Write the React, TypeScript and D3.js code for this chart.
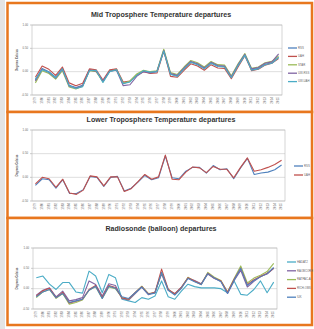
import * as d3 from 'd3';

const years = d3.range(1979, 2016);
const yTicks = [-0.5, 0, 0.5, 1.0];

// Mid troposphere (satellite)
const midLabels = ['RSS', 'UAH', 'STAR', 'UW-RSS', 'UW-UAH'];
const midRss = [-0.18, 0.07, 0.0, -0.12, 0.07, -0.29, -0.34, -0.29, 0.04, 0.02, -0.21, 0.02, 0.05, -0.25, -0.21, -0.07, 0.01, -0.02, 0.0, 0.46, -0.05, -0.09, 0.07, 0.21, 0.16, 0.07, 0.19, 0.12, 0.11, -0.12, 0.14, 0.36, 0.04, 0.07, 0.16, 0.19, 0.31];
const midUah = [-0.12, 0.12, 0.05, -0.08, 0.1, -0.24, -0.3, -0.25, 0.06, 0.04, -0.18, 0.04, 0.06, -0.22, -0.2, -0.08, 0.0, -0.04, -0.03, 0.44, -0.1, -0.12, 0.03, 0.17, 0.12, 0.03, 0.15, 0.08, 0.07, -0.15, 0.1, 0.34, 0.02, 0.05, 0.14, 0.18, 0.28];
const midStar = [-0.24, 0.02, -0.04, -0.16, 0.02, -0.33, -0.37, -0.31, 0.02, 0.0, -0.22, 0.01, 0.04, -0.25, -0.2, -0.05, 0.03, 0.0, 0.02, 0.48, -0.02, -0.06, 0.1, 0.24, 0.19, 0.1, 0.22, 0.15, 0.14, -0.09, 0.17, 0.39, 0.07, 0.1, 0.19, 0.22, 0.34];
const midUwRss = [-0.2, 0.05, -0.02, -0.14, 0.05, -0.31, -0.35, -0.3, 0.03, 0.01, -0.2, 0.01, 0.03, -0.3, -0.28, -0.1, 0.0, -0.03, 0.01, 0.45, -0.04, -0.08, 0.08, 0.22, 0.17, 0.08, 0.2, 0.13, 0.12, -0.11, 0.15, 0.37, 0.06, 0.09, 0.18, 0.21, 0.38];
const midUwUah = [-0.16, 0.04, -0.01, -0.13, 0.06, -0.3, -0.36, -0.32, 0.02, 0.03, -0.23, 0.0, 0.04, -0.26, -0.22, -0.08, 0.02, -0.01, 0.0, 0.44, -0.06, -0.1, 0.06, 0.2, 0.15, 0.06, 0.18, 0.11, 0.1, -0.13, 0.13, 0.35, 0.03, 0.06, 0.15, 0.18, 0.3];

// Lower troposphere (satellite)
const lowLabels = ['RSS', 'UAH'];
const lowRss = [-0.17, -0.03, -0.05, -0.23, -0.05, -0.34, -0.34, -0.26, 0.02, 0.0, -0.19, 0.0, 0.02, -0.29, -0.23, -0.1, 0.04, -0.05, -0.01, 0.45, -0.01, -0.03, 0.13, 0.21, 0.21, 0.09, 0.25, 0.16, 0.18, -0.03, 0.2, 0.4, 0.06, 0.09, 0.11, 0.16, 0.26];
const lowUah = [-0.14, 0.0, -0.03, -0.21, -0.04, -0.33, -0.36, -0.27, 0.03, 0.01, -0.18, 0.01, 0.01, -0.3, -0.24, -0.09, 0.06, -0.04, 0.01, 0.47, -0.04, -0.05, 0.11, 0.22, 0.2, 0.1, 0.23, 0.17, 0.17, -0.01, 0.21, 0.41, 0.13, 0.16, 0.21, 0.27, 0.36];

// Radiosonde
const sondeLabels = ['HADAT2', 'RAOBCORE', 'RATPAC-A', 'RICH-OBS', 'IUK'];
const sondeHadat = [0.27, 0.31, 0.11, -0.02, 0.15, 0.15, -0.08, -0.11, 0.43, 0.31, -0.1, 0.35, 0.27, -0.26, -0.3, -0.34, -0.22, -0.26, -0.18, 0.19, -0.2, -0.26, -0.06, 0.11, 0.05, 0.02, 0.02, 0.02, 0.0, -0.1, 0.19, -0.14, -0.16, -0.02, 0.19, -0.1, 0.16];
const sondeRaob = [-0.16, -0.04, 0.02, -0.2, -0.06, -0.3, -0.27, -0.22, 0.19, 0.1, -0.18, 0.12, 0.08, -0.24, -0.28, -0.12, 0.04, -0.15, -0.08, 0.36, -0.04, -0.12, 0.04, 0.26, 0.2, 0.12, 0.36, 0.25, 0.18, -0.12, 0.2, 0.45, 0.04, 0.18, 0.3, 0.36, 0.5];
const sondeRatpac = [-0.22, -0.08, -0.02, -0.24, -0.12, -0.38, -0.34, -0.28, -0.04, 0.05, -0.24, 0.04, 0.0, -0.22, -0.26, -0.1, 0.06, -0.12, -0.1, 0.4, -0.02, -0.14, 0.02, 0.28, 0.18, 0.1, 0.4, 0.28, 0.2, -0.08, 0.25, 0.56, 0.14, 0.26, 0.33, 0.42, 0.62];
const sondeRich = [-0.18, -0.05, 0.01, -0.22, -0.09, -0.35, -0.31, -0.26, -0.02, 0.08, -0.21, 0.08, 0.03, -0.23, -0.26, -0.09, 0.05, -0.13, -0.09, 0.48, -0.01, -0.13, 0.03, 0.27, 0.19, 0.11, 0.38, 0.26, 0.19, -0.09, 0.23, 0.5, 0.1, 0.22, 0.3, 0.38, 0.5];
const sondeIuk = [-0.2, -0.08, -0.02, -0.22, -0.12, -0.34, -0.3, -0.26, -0.04, 0.06, -0.24, 0.06, 0.01, -0.2, -0.24, -0.1, 0.04, -0.14, -0.11, 0.4, -0.04, -0.16, 0.01, 0.25, 0.17, 0.1, 0.37, 0.26, 0.17, -0.12, 0.21, 0.5, 0.08, 0.2, 0.29, 0.37, 0.52];

const BLUE = '#4F81BD';
const RED = '#C0504D';
const GREEN = '#9BBB59';
const PURPLE = '#8064A2';
const AQUA = '#4BACC6';
const ORANGE = '#E8771E';
const FONT = '"Liberation Sans", Arial, sans-serif';

type Series = { name: string; values: number[]; color: string };

function Panel({
  title,
  series,
  box,
  plot,
  titleY,
  legend,
}: {
  title: string;
  series: Series[];
  box: { y0: number; y1: number };
  plot: { left: number; right: number; top: number; bottom: number };
  titleY: number;
  legend: { x: number; y: number; step: number };
}) {
  const x = d3.scalePoint<number>()
    .domain(years)
    .range([plot.left, plot.right])
    .padding(0.5);
  const y = d3.scaleLinear()
    .domain([-0.5, 1.0])
    .range([plot.bottom, plot.top]);

  const line = d3.line<number>()
    .x((_, i) => x(years[i]) as number)
    .y(d => y(d));

  const midY = (plot.top + plot.bottom) / 2;

  return (
    <g>
      <rect
        x={7.5}
        y={box.y0}
        width={304.5}
        height={box.y1 - box.y0}
        fill="#fff"
        stroke={ORANGE}
        strokeWidth={2.5}
      />
      <text
        x={161}
        y={titleY}
        textAnchor="middle"
        dominantBaseline="middle"
        fontFamily={FONT}
        fontWeight="bold"
        fontSize={7.1}
        fill="#333"
      >
        {title}
      </text>

      {/* gridlines + y labels */}
      {yTicks.map(t => (
        <g key={t}>
          <line x1={plot.left} x2={plot.right} y1={y(t)} y2={y(t)} stroke="#c8c8c8" strokeWidth={0.6} />
          <line x1={plot.left - 2} x2={plot.left} y1={y(t)} y2={y(t)} stroke="#aaa" strokeWidth={0.6} />
          <text
            x={plot.left - 4}
            y={y(t)}
            textAnchor="end"
            dominantBaseline="middle"
            fontFamily={FONT}
            fontSize={2.8}
            fill="#666"
          >
            {t.toFixed(2)}
          </text>
        </g>
      ))}
      <rect
        x={plot.left}
        y={plot.top}
        width={plot.right - plot.left}
        height={plot.bottom - plot.top}
        fill="none"
        stroke="#b8b8b8"
        strokeWidth={0.6}
      />
      <text
        transform={`translate(17,${midY}) rotate(-90)`}
        textAnchor="middle"
        dominantBaseline="middle"
        fontFamily={FONT}
        fontWeight="bold"
        fontSize={2.8}
        fill="#555"
      >
        Degrees Celsius
      </text>

      {/* x labels */}
      {years.map(yr => (
        <text
          key={yr}
          transform={`translate(${x(yr)},${plot.bottom + 2}) rotate(-90)`}
          textAnchor="end"
          dominantBaseline="middle"
          fontFamily={FONT}
          fontSize={3}
          fill="#666"
        >
          {yr}
        </text>
      ))}

      {/* lines */}
      {series.map(s => (
        <path key={s.name} d={line(s.values) || ''} fill="none" stroke={s.color} strokeWidth={1.1} strokeLinejoin="round" />
      ))}

      {/* legend */}
      {series.map((s, i) => (
        <g key={s.name} transform={`translate(${legend.x},${legend.y + i * legend.step})`}>
          <line x1={0} x2={9} y1={0} y2={0} stroke={s.color} strokeWidth={1.3} />
          <text x={10} y={0} dominantBaseline="middle" fontFamily={FONT} fontSize={2.8} fill="#666">
            {s.name}
          </text>
        </g>
      ))}
    </g>
  );
}

export default function App() {
  const mid: Series[] = [
    { name: midLabels[0], values: midRss, color: BLUE },
    { name: midLabels[1], values: midUah, color: RED },
    { name: midLabels[2], values: midStar, color: GREEN },
    { name: midLabels[3], values: midUwRss, color: PURPLE },
    { name: midLabels[4], values: midUwUah, color: AQUA },
  ];
  const low: Series[] = [
    { name: lowLabels[0], values: lowRss, color: BLUE },
    { name: lowLabels[1], values: lowUah, color: RED },
  ];
  const sonde: Series[] = [
    { name: sondeLabels[0], values: sondeHadat, color: AQUA },
    { name: sondeLabels[1], values: sondeRaob, color: PURPLE },
    { name: sondeLabels[2], values: sondeRatpac, color: GREEN },
    { name: sondeLabels[3], values: sondeRich, color: RED },
    { name: sondeLabels[4], values: sondeIuk, color: BLUE },
  ];

  return (
    <div style={{ position: 'absolute', left: 0, top: 0 }}>
      <svg width={314} height={329} style={{ display: 'block' }}>
        <rect x={0} y={0} width={314} height={329} fill="#fff" />
        <rect x={0} y={0} width={5} height={329} fill="#e4e4e4" />
        <Panel
          title="Mid Troposphere Temperature departures"
          series={mid}
          box={{ y0: 3, y1: 112 }}
          plot={{ left: 32, right: 282, top: 25, bottom: 95 }}
          titleY={15}
          legend={{ x: 288, y: 48, step: 8.4 }}
        />
        <Panel
          title="Lower Troposphere Temperature departures"
          series={low}
          box={{ y0: 112, y1: 218 }}
          plot={{ left: 32, right: 285, top: 130, bottom: 201 }}
          titleY={120}
          legend={{ x: 294, y: 166, step: 9 }}
        />
        <Panel
          title="Radiosonde (balloon) departures"
          series={sonde}
          box={{ y0: 218, y1: 325 }}
          plot={{ left: 33, right: 277, top: 248, bottom: 309 }}
          titleY={229}
          legend={{ x: 287, y: 262, step: 8.8 }}
        />
      </svg>
    </div>
  );
}
